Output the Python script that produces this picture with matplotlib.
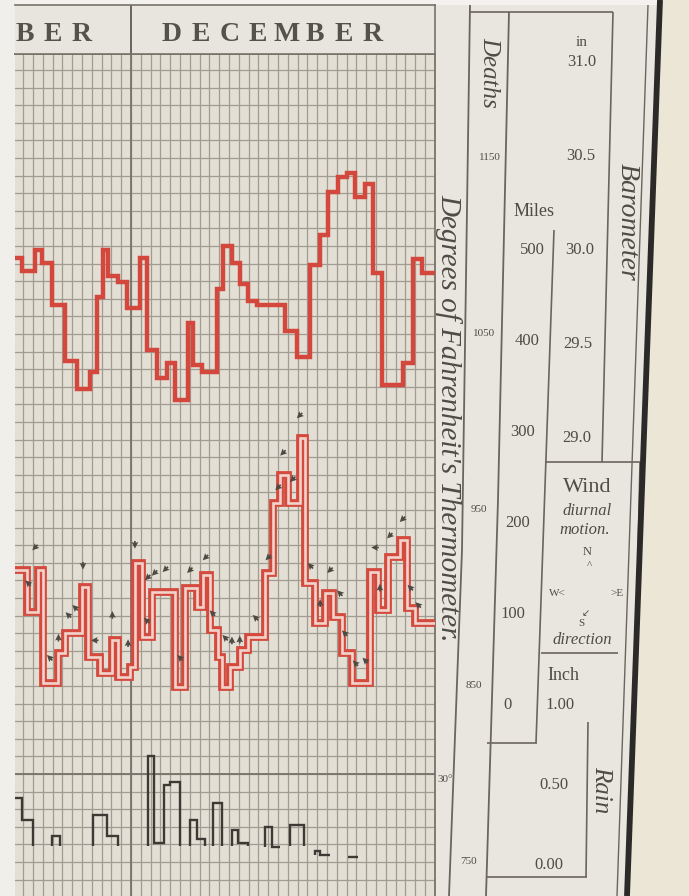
import matplotlib
matplotlib.use("Agg")
import matplotlib.pyplot as plt
from matplotlib.patches import Polygon, Rectangle
import numpy as np

W, H = 689, 896

# ---------------------------------------------------------------
# values
# x is in days counted from the 1st of December (negative = November)
# ---------------------------------------------------------------
baro_days = [-12.0, -11.15, -9.80, -9.11, -8.09, -6.73, -5.54, -4.18, -3.50, -2.83,
             -2.32, -1.30, -0.44, 0.92, 1.60, 2.62, 3.64, 4.49, 5.85, 6.36,
             7.21, 8.74, 9.42, 10.28, 11.12, 11.97, 12.83, 15.71, 16.91, 18.27,
             19.29, 20.13, 21.15, 22.01, 22.86, 23.88, 24.72, 25.58, 27.79, 28.81,
             29.66, 31.0]
baro_in = [29.96, 29.89, 30.00, 29.93, 29.71, 29.41, 29.26, 29.35, 29.75, 30.00,
           29.86, 29.83, 29.69, 29.96, 29.47, 29.32, 29.40, 29.20, 29.61, 29.39,
           29.35, 29.79, 30.02, 29.93, 29.82, 29.73, 29.71, 29.57, 29.43, 29.92,
           30.08, 30.31, 30.39, 30.41, 30.28, 30.35, 29.88, 29.28, 29.40, 29.95,
           29.88]

wind_days = [-12.0, -10.61, -9.49, -8.98, -7.45, -6.73, -5.00, -4.39, -3.16, -1.94,
             -1.33, -0.10, 0.41, 1.12, 2.14, 4.49, 5.51, 6.73, 7.35, 8.06,
             8.88, 9.29, 10.10, 11.12, 11.94, 13.67, 14.49, 15.20, 16.02, 17.24,
             17.76, 18.78, 19.80, 20.61, 21.53, 22.55, 24.39, 25.20, 26.22, 27.45,
             28.16, 28.98, 31.0]
wind_miles = [148, 102, 148, 24, 57, 79, 130, 53, 35, 71,
              31, 42, 156, 75, 124, 20, 129, 108, 143, 82,
              53, 20, 42, 60, 75, 145, 222, 253, 222, 293,
              134, 90, 123, 97, 57, 24, 146, 104, 163, 181,
              107, 90]

# little direction arrows pencilled along the wind line (screen angle, degrees)
arrow_days = [-10.5, -9.8, -8.3, -7.4, -6.4, -5.7, -4.9, -3.7, -1.9, -0.3,
              0.4, 1.6, 1.7, 2.4, 3.5, 5.0, 6.0, 7.6, 8.3, 9.6,
              10.3, 11.1, 12.7, 14.0, 15.0, 15.5, 16.5, 17.2, 18.3, 19.3,
              20.3, 21.3, 21.8, 22.9, 23.9, 24.9, 25.4, 26.4, 27.7, 28.5, 29.3]
arrow_miles = [126, 165, 44, 66, 91, 99, 145, 63, 91, 60,
               168, 85, 132, 137, 141, 44, 140, 154, 93, 66,
               63, 64, 88, 154, 231, 269, 240, 310, 145, 104,
               140, 115, 71, 38, 41, 165, 121, 178, 196, 121, 102]
arrow_dirs = [135, 225, 135, 90, 135, 135, 270, 180, 90, 90,
              270, 135, 225, 225, 225, 135, 225, 225, 135, 135,
              90, 90, 135, 225, 225, 225, 225, 225, 135, 90,
              225, 135, 135, 135, 135, 180, 90, 225, 225, 135, 135]

rain_days = [-12.0, -11.12, -10.0, -8.06, -7.24, -3.88, -2.45, -1.33, 1.73, 2.35,
             3.37, 3.98, 5.0, 6.02, 6.73, 7.55, 8.37, 9.29, 10.31, 10.92,
             11.94, 13.67, 14.39, 15.2, 16.22, 17.65, 18.78, 19.29, 20.31, 22.14,
             23.16]
rain_in = [0.42, 0.28, np.nan, 0.18, np.nan, 0.31, 0.18, np.nan, 0.68, 0.14,
           0.50, 0.52, np.nan, 0.28, 0.16, np.nan, 0.39, np.nan, 0.22, 0.14,
           np.nan, 0.24, 0.11, np.nan, 0.25, np.nan, 0.09, 0.06, np.nan, 0.05]
rain_floor = 0.12

death_ticks = [1150, 1050, 950, 850, 750]
mile_ticks = [500, 400, 300, 200, 100, 0]
baro_ticks = [31.0, 30.5, 30.0, 29.5, 29.0]
rain_ticks = [1.00, 0.50, 0.00]
months = ["NOVEMBER", "DECEMBER"]
month_centres = [-15.25, 14.4]

# ---------------------------------------------------------------
SERIF = ["Liberation Serif", "DejaVu Serif"]
INK = "#4f4c46"
RED = "#d3473c"
GRID_C = "#a19c91"

DAY_PX = 9.8
DEC1_PX = 131
GRID_L, GRID_TOP = 15, 54
X0 = (GRID_L - DEC1_PX) / DAY_PX
X1 = 31.0
GRID_R = DEC1_PX + X1 * DAY_PX

fig = plt.figure(figsize=(W / 100, H / 100), dpi=100)
fig.patch.set_facecolor("#ebe8e1")

# whole-page overlay in pixel units for the paper and the ruled side panels
frame = fig.add_axes([0, 0, 1, 1], zorder=0)
frame.set_xlim(0, W)
frame.set_ylim(H, 0)
frame.axis("off")
frame.add_patch(Rectangle((0, 0), GRID_L, H, color="#f0efec", lw=0))
frame.add_patch(Rectangle((GRID_L, 0), 645, 5, color="#f3f2ef", lw=0))
frame.add_patch(Polygon([(435, 5), (660, 5), (627, H), (435, H)], color="#e8e6df", lw=0))
frame.add_patch(Polygon([(661, 0), (W, 0), (W, H), (628, H)], color="#ece6d6", lw=0))

grid_rect = [GRID_L / W, 0, (GRID_R - GRID_L) / W, (H - GRID_TOP) / H]


def scaled_axes(v_a, p_a, v_b, p_b, z):
    a = fig.add_axes(grid_rect, zorder=z)
    slope = (v_b - v_a) / (p_b - p_a)
    a.set_ylim(v_a + slope * (H - p_a), v_a + slope * (GRID_TOP - p_a))
    a.set_xlim(X0, X1)
    return a


# the ruled sheet, y in deaths
ax = scaled_axes(1150, 158, 750, 862, 1)
ax.set_facecolor("#e3dfd4")
ax.set_xticks(np.arange(-11, 31))
ax.set_yticks(np.arange(740, 1210, 10))
ax.tick_params(length=0, labelleft=False, labelbottom=False)
ax.grid(True, color=GRID_C, lw=0.9)
ax.axvline(0, color="#77736a", lw=1.3)
ax.axhline(800, color="#77736a", lw=1.3)   # the 30 degree ruling
for s in ["left", "bottom"]:
    ax.spines[s].set_visible(False)
for s in ["top", "right"]:
    ax.spines[s].set_color("#77736a")
    ax.spines[s].set_linewidth(1.3)

# header with the month names
hd = fig.add_axes([GRID_L / W, 1 - GRID_TOP / H, (GRID_R - GRID_L) / W, (GRID_TOP - 5) / H], zorder=1)
hd.set_facecolor("#e7e5de")
hd.set_xlim(X0, X1)
hd.set_ylim(0, 1)
hd.set_xticks([])
hd.set_yticks([])
hd.spines["left"].set_visible(False)
for s in ["top", "right", "bottom"]:
    hd.spines[s].set_color("#77736a")
    hd.spines[s].set_linewidth(1.2)
hd.axvline(0, color="#5f5b53", lw=1.3)
for name, c in zip(months, month_centres):
    n = len(name)
    for i, ch in enumerate(name):
        xc = c + (i - (n - 1) / 2) * 2.92
        if xc < X0 + 0.5:
            continue   # letters of the month that run off the sheet
        hd.text(xc, 0.26, ch, ha="center", va="baseline",
                fontsize=20, fontweight="bold", family=SERIF, color="#55524b")

# barometer (red line)
ax_b = scaled_axes(31.0, 62, 29.0, 438, 3)
ax_b.axis("off")
ax_b.stairs(baro_in, baro_days, baseline=None, color=RED, lw=3.2)

# wind, miles of daily motion (double red line)
ax_w = scaled_axes(500, 250, 0, 705, 4)
ax_w.axis("off")
ax_w.stairs(wind_miles, wind_days, baseline=None, color="#d44a3e", lw=5.6)
ax_w.stairs(wind_miles, wind_days, baseline=None, color="#f1d3cb", lw=1.9)
ang = np.radians(arrow_dirs)
ax_w.quiver(np.array(arrow_days), np.array(arrow_miles) + 8, np.cos(ang), np.sin(ang),
            angles="uv", scale_units="inches", scale=13, pivot="middle",
            width=0.004, headwidth=4, headlength=4, headaxislength=3.5,
            color="#4d4a44", zorder=6)

# rain (black line)
ax_r = scaled_axes(1.00, 705, 0.00, 865, 5)
ax_r.axis("off")
vals = np.array(rain_in, float)
edges = np.array(rain_days)
ok = ~np.isnan(vals)
i = 0
while i < len(vals):
    if not ok[i]:
        i += 1
        continue
    j = i
    while j < len(vals) and ok[j]:
        j += 1
    run = vals[i:j]
    ax_r.stairs(run, edges[i:j + 1], baseline=min(rain_floor, run.min()),
                color="#3d3a36", lw=1.7)
    i = j

# ---------------------------------------------------------------
# side panels
# ---------------------------------------------------------------
rules = [
    ([470, 462, 449], [5, 550, H], 1.3),     # deaths, left
    ([509, 498, 486], [12, 500, H], 1.3),    # deaths, right
    ([470, 613], [12, 12], 1.2),             # top of the scales
    ([613, 602], [12, 462], 1.2),            # barometer, right
    ([545, 640], [462, 462], 1.2),           # barometer bottom / wind top
    ([554, 536], [230, 743], 1.2),           # miles / wind, left
    ([487, 537], [743, 743], 1.2),           # miles bottom
    ([640, 636], [462, 653], 1.2),           # wind, right
    ([541, 618], [653, 653], 1.2),           # wind bottom
    ([588, 586], [722, 877], 1.2),           # rain, right
    ([487, 587], [877, 877], 1.2),           # rain bottom
    ([648, 617], [5, H], 1.0),               # outer thin rule
]
for xs, ys, lw in rules:
    frame.plot(xs, ys, color="#6a665e", lw=lw, solid_capstyle="butt")
frame.plot([660, 627], [0, H], color="#2b2a28", lw=4.2, solid_capstyle="butt")


def row_px(a, v):
    return frame.transData.inverted().transform(a.transData.transform((0, v)))[1]


num = dict(family=SERIF, color=INK, ha="center", va="center")
for v in death_ticks:
    y = row_px(ax, v)
    frame.text(490 - 0.031 * (y - 157), y, str(v), fontsize=8, **num)
for v in mile_ticks:
    y = row_px(ax_w, v)
    frame.text(532 - 0.053 * (y - 250), y, str(v), fontsize=12, **num)
for v in baro_ticks:
    y = row_px(ax_b, v)
    frame.text(582 - 0.0134 * (y - 63), y, f"{v:.1f}", fontsize=12, **num)
for v in rain_ticks:
    y = row_px(ax_r, v)
    frame.text(560 - 0.07 * (y - 705), y, f"{v:.2f}", fontsize=12, **num)

ital = dict(family=SERIF, style="italic", color=INK, ha="center", va="center")
frame.text(449, 418, "Degrees of Fahrenheit's Thermometer.", rotation=-90, fontsize=21, **ital)
frame.text(489, 72, "Deaths", rotation=-90, fontsize=18, **ital)
frame.text(627, 222, "Barometer", rotation=-90, fontsize=20, **ital)
frame.text(601, 790, "Rain", rotation=-90, fontsize=18, **ital)
frame.text(587, 511, "diurnal", fontsize=12, **ital)
frame.text(585, 530, "motion.", fontsize=12, **ital)
frame.text(582, 640, "direction", fontsize=12, **ital)

frame.text(582, 42, "in", fontsize=11, **num)
frame.text(534, 212, "Miles", fontsize=13, **num)
frame.text(587, 488, "Wind", fontsize=16, **num)
frame.text(563, 675, "Inch", fontsize=13, **num)
frame.text(587, 552, "N", fontsize=9, **num)
frame.text(589, 566, "^", fontsize=8, **num)
frame.text(557, 593, "W<", fontsize=8, **num)
frame.text(617, 593, ">E", fontsize=8, **num)
frame.text(581, 623, "S", fontsize=8, **num)
frame.text(586, 613, "\u2199", fontsize=7, family=["DejaVu Sans"], color=INK, ha="center", va="center")
frame.text(445, 779, "30\u00b0", fontsize=8, **num)

fig.savefig("out.png", dpi=100, facecolor=fig.get_facecolor())
